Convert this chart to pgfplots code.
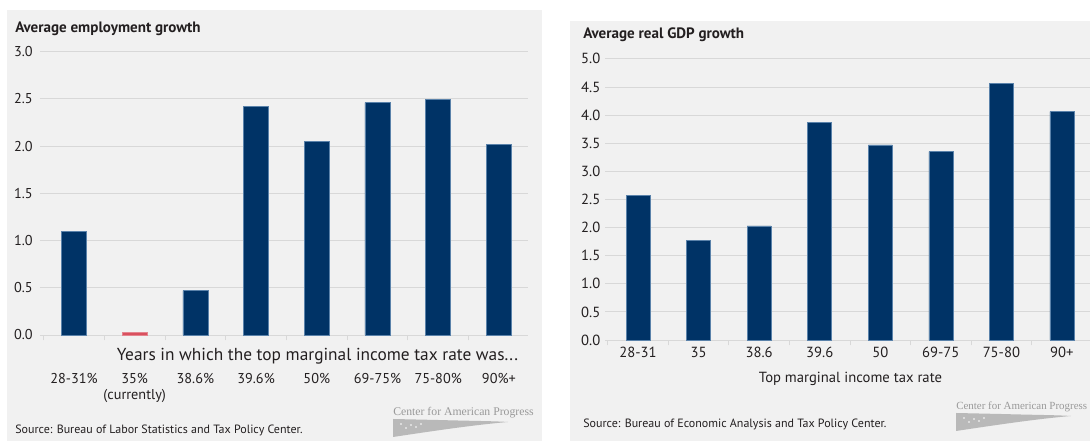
\documentclass[border=0pt]{standalone}
\usepackage{pgfplots}
\pgfplotsset{compat=1.18}
\usepackage{fontspec}
\setmainfont{PT Sans}
\newfontfamily\logofont{Liberation Serif}
\definecolor{panel}{HTML}{F1F1F1}
\definecolor{navy}{HTML}{003366}
\definecolor{navyedge}{HTML}{5A82AA}
\definecolor{redbar}{HTML}{D9505E}
\definecolor{gridc}{HTML}{D8D8D8}
\definecolor{txt}{HTML}{231F20}
\newcommand\fTitle{\fontsize{11.3}{13}\selectfont\bfseries}
\newcommand\fTickL{\fontsize{10.7}{12.5}\selectfont}
\newcommand\fTickR{\fontsize{11}{13}\selectfont}
\newcommand\fLabL{\fontsize{13}{14}\selectfont}
\newcommand\fLabR{\fontsize{11}{13}\selectfont}
\newcommand\fSrc{\fontsize{9}{10}\selectfont}
\pgfplotsset{
  cap/.style={
    scale only axis,
    anchor=south west,
    ymin=0,
    axis line style={draw=none},
    ymajorgrids, grid style={gridc, line width=0.6pt},
    major tick length=0pt,
    minor tick length=4pt,
    tick align=center,
    xtick pos=bottom,
    ytick pos=left,
    minor tick style={gridc, line width=0.6pt},
    minor xtick={-0.5,0.5,...,7.5},
    xtick={0,...,7},
    ybar, bar shift=0pt,
    ticklabel style={text=txt},
    /pgf/number format/fixed,
    /pgf/number format/fixed zerofill,
    /pgf/number format/precision=1,
    /pgf/number format/assume math mode=true,
    xticklabel style={align=center, anchor=north},
    clip=false,
  }
}
\begin{document}
\begin{tikzpicture}[x=0.75pt,y=0.75pt]
\useasboundingbox (0,0) rectangle (1090,441);
\clip (0,0) rectangle (1090,441);
\fill[white] (0,0) rectangle (1090,441);
\fill[panel] (7,0) rectangle (542,431);
\fill[panel] (570,0) rectangle (1090,420);

% ---------- left chart ----------
\begin{axis}[cap,
  at={(30pt,79.5pt)},
  width=366pt, height=212.6pt,
  xmin=-0.56, xmax=7.48, ymax=3,
  ytick={0,0.5,...,3},
  yticklabel style={xshift=-2pt, font=\fTickL},
  xticklabels={28-31\%, 35\%\\(currently), 38.6\%, 39.6\%, 50\%, 69-75\%, 75-80\%, 90\%+},
  xticklabel style={yshift=-25pt, font=\fTickL},
]
\addplot[fill=navy, draw=navyedge, line width=0.4pt, bar width=18.75pt]
  coordinates {(0,1.10) (2,0.47) (3,2.42) (4,2.05) (5,2.46) (6,2.49) (7,2.02)};
\addplot[fill=redbar, draw=redbar!70, line width=0.4pt, bar width=18.75pt]
  coordinates {(1,0.03)};
\end{axis}

% ---------- right chart ----------
\begin{axis}[cap,
  at={(453.75pt,75.75pt)},
  width=364.5pt, height=210.9pt,
  xmin=-0.545, xmax=7.48, ymax=5,
  ytick={0,0.5,...,5},
  yticklabel style={font=\fTickR},
  xticklabels={28-31, 35, 38.6, 39.6, 50, 69-75, 75-80, 90+},
  xticklabel style={yshift=-2pt, font=\fTickR},
]
\addplot[fill=navy, draw=navyedge, line width=0.4pt, bar width=18pt]
  coordinates {(0,2.57) (1,1.77) (2,2.03) (3,3.87) (4,3.47) (5,3.35) (6,4.56) (7,4.06)};
\end{axis}

% ---------- texts ----------
\node[anchor=west, inner sep=0, text=txt, font=\fTitle] at (15,412) {Average employment growth};
\node[inner sep=0, text=txt, font=\fLabL] at (317.5,85) {Years in which the top marginal income tax rate was...};
\node[anchor=west, inner sep=0, text=txt, font=\fSrc] at (15,11) {Source: Bureau of Labor Statistics and Tax Policy Center.};

\node[anchor=west, inner sep=0, text=txt, font=\fTitle] at (583,406) {Average real GDP growth};
\node[inner sep=0, text=txt, font=\fLabR] at (850.5,62) {Top marginal income tax rate};
\node[anchor=west, inner sep=0, text=txt, font=\fSrc] at (583,17) {Source: Bureau of Economic Analysis and Tax Policy Center.};

% ---------- logos ----------
\foreach \lx/\ly/\fs in {393/28/8.8, 956/34/8.2}{
  \node[anchor=west, inner sep=0, text=gray!80, font=\logofont\fontsize{\fs}{9}\selectfont] at (\lx,\ly) {Center for American Progress};
  \fill[gray!55] (\lx,\ly-6) -- (\lx+45,\ly-7) .. controls (\lx+80,\ly-8) and (\lx+100,\ly-8) .. (\lx+115,\ly-9)
     .. controls (\lx+80,\ly-12) and (\lx+40,\ly-18) .. (\lx,\ly-24) -- cycle;
  \foreach \sx/\sy in {8/-11, 18/-12, 28/-11, 13/-15, 23/-14}{
    \fill[white] (\lx+\sx,\ly+\sy) circle (0.9);
  }
}
\end{tikzpicture}
\end{document}
